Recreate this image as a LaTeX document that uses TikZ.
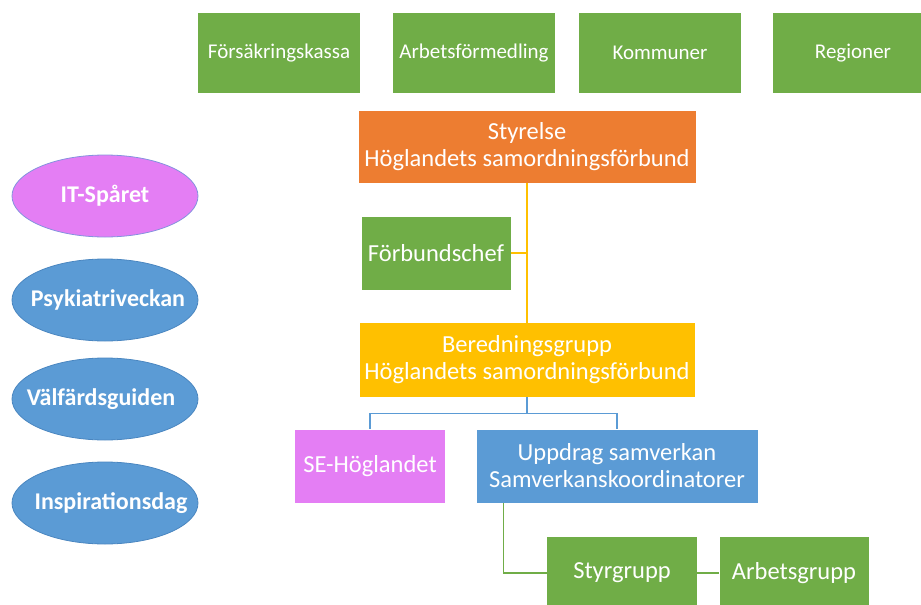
\documentclass[tikz,border=0pt]{standalone}
\usepackage{fontspec}
\setmainfont{Carlito}
\usepackage{tikz}
\usetikzlibrary{calc, shapes.geometric}
\usepackage{xcolor}

\definecolor{grn}{HTML}{70AD47}
\definecolor{org}{HTML}{ED7D31}
\definecolor{ylw}{HTML}{FFC000}
\definecolor{blu}{HTML}{5B9BD5}
\definecolor{blud}{HTML}{4A86C0}
\definecolor{mag}{HTML}{E47EF4}

\tikzset{
	box/.style={rectangle, text=white, font=\fontsize{24.5}{27}\selectfont, align=center, inner sep=0pt},
	topbox/.style={box, fill=grn, font=\fontsize{21}{25}\selectfont, minimum width=162, minimum height=80},
	oval/.style={ellipse, draw=blud, line width=0.8pt, fill=blu, minimum width=186, minimum height=82, inner sep=0pt},
	ovaltext/.style={text=white, font=\fontsize{24}{28}\selectfont\bfseries, inner sep=0pt},
}

\begin{document}
\begin{tikzpicture}[x=1pt, y=-1pt]
		\useasboundingbox (0,0) rectangle (921,605);
		\clip (0,0) rectangle (921,605);
		
		% parterna
		\node [topbox] (fk) at (279,53) {Försäkringskassa};
		\node [topbox] (af) at (474,53) {Arbetsförmedling};
		\node [topbox] (kom) at (660,53) {Kommuner};
		\node [topbox, minimum width=160] (reg) at (853,53) {Regioner};
		
		\node [box, fill=org, minimum width=337, minimum height=72] (styr) at (527,147) {Styrelse\\Höglandets samordningsförbund};
		\node [box, fill=grn, minimum width=149, minimum height=73] (chef) at (436,253) {Förbundschef};
		\node [box, fill=ylw, minimum width=335, minimum height=74] (bered) at (527,360) {Beredningsgrupp\\Höglandets samordningsförbund};
		
		\node [box, fill=mag, minimum width=150, minimum height=73] (se) at (370,466) {SE-Höglandet};
		\node [box, fill=blu, minimum width=281, minimum height=73] (upp) at (617,466) {Uppdrag samverkan\\Samverkanskoordinatorer};
		
		\node [box, fill=grn, minimum width=150, minimum height=72] (styrgr) at (622,573) {Styrgrupp};
		\node [box, fill=grn, minimum width=149, minimum height=72] (arbgr) at (794,573) {Arbetsgrupp};
		
		% linjer
		\draw [ylw, line width=1.4pt] (styr.south) -- (bered.north);
		\draw [ylw, line width=1.4pt] (chef.east) -- (chef.east -| styr.south);
		
		\coordinate (split) at ($(bered.south)+(0,16)$);
		\draw [blu, line width=1.3pt] (bered.south) -- (split) -| (se.north);
		\draw [blu, line width=1.3pt] (split) -| (upp.north);
		
		\draw [grn, line width=1.6pt] ($(upp.south west)+(27,0)$) |- (styrgr.west);
		\draw [grn, line width=1.6pt] (styrgr.east) -- (arbgr.west);
		
	%	projekt
		\node [oval, fill=mag, draw=blu!70!mag, label={[ovaltext]center:IT-Spåret}] (it) at (105,196) {};
		\node [oval, label={[ovaltext, xshift=3]center:Psykiatriveckan}] (psyk) at (105,300) {};
		\node [oval, label={[ovaltext, xshift=-4]center:Välfärdsguiden}] (valf) at (105,399) {};
		\node [oval, label={[ovaltext, xshift=6]center:Inspirationsdag}] (insp) at (105,503) {};
	\end{tikzpicture}
\end{document}
